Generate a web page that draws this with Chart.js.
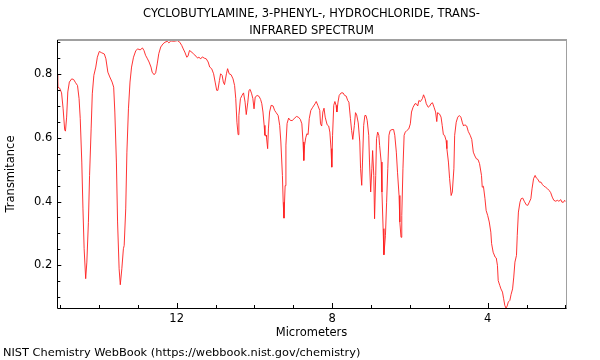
<!DOCTYPE html>
<html>
<head>
<meta charset="utf-8">
<script src="https://cdn.jsdelivr.net/npm/chart.js@4.4.1/dist/chart.umd.min.js"></script>
<style>
  html, body { margin: 0; padding: 0; background: #fff; }
  #wrap { position: relative; width: 600px; height: 360px; overflow: hidden; }
  #c { position: absolute; left: 0; top: 0; }
  .txt { position: absolute; font-family: 'DejaVu Sans', sans-serif; font-size: 11.5px; color: #000; white-space: nowrap; }
  #title { left: 0; width: 623px; top: 4.5px; line-height: 17px; text-align: center; }
  #footer { left: 3px; top: 345px; line-height: 14px; font-size: 11.35px; }
</style>
</head>
<body>
<div id="wrap">
  <canvas id="c" width="600" height="360"></canvas>
  <div id="title" class="txt"></div>
  <div id="footer" class="txt"></div>
</div>
<script>
const titleLines = ["CYCLOBUTYLAMINE, 3-PHENYL-, HYDROCHLORIDE, TRANS-", "INFRARED SPECTRUM"];
const xAxisLabel = "Micrometers";
const yAxisLabel = "Transmitance";
const footerText = "NIST Chemistry WebBook (https://webbook.nist.gov/chemistry)";

const wavelengths = [
15.07,15.06,15.01,14.96,14.92,14.88,14.86,14.83,14.80,14.76,14.70,14.65,14.60,14.55,14.51,14.48,14.44,14.41,14.38,14.34,
14.31,14.27,14.24,14.20,14.17,14.13,14.08,14.04,13.99,13.93,13.86,13.82,13.77,13.72,13.66,13.62,13.59,13.55,13.52,13.48,
13.45,13.41,13.37,13.35,13.31,13.28,13.24,13.20,13.16,13.11,13.05,13.00,12.94,12.88,12.84,12.80,12.76,12.71,12.66,12.63,
12.58,12.54,12.50,12.46,12.41,12.35,12.30,12.24,12.20,12.15,12.07,11.98,11.92,11.87,11.83,11.79,11.74,11.71,11.67,11.61,
11.55,11.50,11.46,11.43,11.38,11.34,11.29,11.24,11.19,11.15,11.10,11.05,11.01,10.97,10.94,10.90,10.87,10.83,10.80,10.77,
10.72,10.69,10.65,10.60,10.55,10.51,10.48,10.45,10.42,10.40,10.36,10.32,10.28,10.24,10.21,10.17,10.14,10.11,10.07,10.04,
10.01,9.98,9.93,9.88,9.84,9.81,9.78,9.75,9.73,9.70,9.69,9.66,9.64,9.61,9.57,9.52,9.48,9.44,9.39,9.35,
9.32,9.28,9.26,9.24,9.21,9.19,9.16,9.12,9.08,9.03,8.98,8.92,8.87,8.82,8.78,8.75,8.73,8.71,8.68,8.65,
8.62,8.59,8.55,8.50,8.44,8.41,8.37,8.32,8.30,8.27,8.24,8.21,8.18,8.13,8.09,8.06,8.03,8.01,7.99,7.96,
7.93,7.90,7.88,7.85,7.82,7.77,7.72,7.68,7.64,7.60,7.57,7.53,7.50,7.47,7.43,7.40,7.37,7.33,7.29,7.27,
7.24,7.22,7.19,7.16,7.13,7.10,7.06,7.04,7.01,6.98,6.96,6.93,6.91,6.88,6.86,6.83,6.80,6.78,6.74,6.72,
6.69,6.67,6.63,6.60,6.57,6.54,6.51,6.46,6.42,6.39,6.35,6.32,6.28,6.26,6.23,6.21,6.18,6.15,6.12,6.08,
6.03,5.99,5.96,5.92,5.87,5.84,5.80,5.77,5.73,5.68,5.65,5.61,5.58,5.53,5.49,5.46,5.42,5.38,5.34,5.31,
5.29,5.24,5.20,5.17,5.14,5.11,5.07,5.05,5.01,4.98,4.94,4.91,4.87,4.85,4.81,4.77,4.73,4.69,4.65,4.62,
4.59,4.54,4.50,4.45,4.41,4.37,4.33,4.29,4.25,4.21,4.16,4.14,4.11,4.07,4.04,4.00,3.96,3.92,3.90,3.86,
3.81,3.78,3.75,3.73,3.69,3.66,3.62,3.59,3.56,3.53,3.50,3.47,3.43,3.40,3.36,3.33,3.30,3.26,3.24,3.21,
3.17,3.14,3.10,3.06,3.01,2.97,2.93,2.89,2.86,2.82,2.78,2.75,2.71,2.67,2.63,2.59,2.55,2.51,2.46,2.42,
2.38,2.34,2.30,2.25,2.21,2.17,2.12,2.09,2.05,2.02,1.995
];

const transmittance = [
0.800,0.759,0.756,0.741,0.691,0.625,0.621,0.665,0.744,0.775,0.785,0.783,0.773,0.764,0.723,0.660,0.524,0.377,0.252,0.158,
0.210,0.335,0.482,0.628,0.738,0.796,0.822,0.853,0.871,0.867,0.863,0.848,0.806,0.791,0.775,0.759,0.681,0.524,0.336,0.189,
0.139,0.189,0.252,0.262,0.377,0.555,0.691,0.775,0.822,0.853,0.874,0.879,0.876,0.882,0.874,0.859,0.850,0.838,0.822,0.806,
0.798,0.804,0.832,0.864,0.885,0.895,0.900,0.903,0.898,0.904,0.903,0.905,0.900,0.890,0.879,0.869,0.853,0.856,0.874,0.869,
0.861,0.856,0.850,0.853,0.848,0.854,0.850,0.848,0.838,0.822,0.817,0.801,0.775,0.749,0.749,0.780,0.801,0.796,0.775,0.767,
0.801,0.817,0.801,0.798,0.785,0.764,0.723,0.649,0.610,0.670,0.723,0.733,0.741,0.712,0.673,0.712,0.749,0.752,0.738,0.723,
0.691,0.728,0.733,0.730,0.720,0.707,0.681,0.639,0.608,0.608,0.602,0.566,0.628,0.681,0.702,0.700,0.686,0.679,0.670,0.639,
0.587,0.482,0.398,0.348,0.450,0.577,0.645,0.662,0.655,0.654,0.660,0.667,0.665,0.658,0.644,0.587,0.529,0.577,0.600,0.613,
0.610,0.660,0.686,0.696,0.707,0.714,0.702,0.686,0.644,0.637,0.681,0.693,0.665,0.641,0.637,0.618,0.566,0.508,0.608,0.702,
0.714,0.702,0.681,0.712,0.733,0.741,0.741,0.733,0.731,0.717,0.712,0.660,0.623,0.595,0.639,0.679,0.672,0.647,0.587,0.503,
0.451,0.524,0.639,0.670,0.670,0.655,0.608,0.524,0.430,0.503,0.560,0.482,0.346,0.482,0.597,0.618,0.608,0.576,0.524,0.430,
0.315,0.233,0.294,0.398,0.503,0.608,0.623,0.626,0.626,0.608,0.555,0.492,0.419,0.336,0.288,0.356,0.503,0.608,0.618,0.623,
0.628,0.644,0.681,0.696,0.707,0.707,0.700,0.717,0.714,0.723,0.735,0.723,0.707,0.696,0.700,0.707,0.710,0.696,0.681,0.651,
0.679,0.675,0.665,0.639,0.610,0.608,0.592,0.566,0.524,0.472,0.419,0.430,0.503,0.608,0.649,0.665,0.670,0.665,0.647,0.637,
0.641,0.637,0.620,0.608,0.595,0.555,0.543,0.534,0.532,0.519,0.482,0.445,0.448,0.409,0.372,0.356,0.336,0.304,0.268,0.241,
0.226,0.223,0.200,0.152,0.137,0.126,0.116,0.095,0.074,0.066,0.072,0.085,0.090,0.108,0.126,0.163,0.210,0.231,0.294,0.367,
0.398,0.409,0.411,0.401,0.390,0.388,0.398,0.409,0.440,0.472,0.482,0.474,0.470,0.461,0.461,0.453,0.448,0.445,0.440,0.435,
0.428,0.414,0.404,0.401,0.404,0.401,0.406,0.398,0.398,0.404,0.400
];

const xTickValues = [2,3,4,5,6,7,8,9,10,11,12,13,14,15];
const xTickLabels = [4, 8, 12];
const yTickValues = [0.1,0.15,0.2,0.25,0.3,0.35,0.4,0.45,0.5,0.55,0.6,0.65,0.7,0.75,0.8,0.85,0.9];
const yTickLabels = [0.2, 0.4, 0.6, 0.8];

const FONT = "'DejaVu Sans', sans-serif";
const FSIZE = 11.5;

document.getElementById('title').innerHTML = titleLines.map(s => '<div>' + s + '</div>').join('');
document.getElementById('footer').textContent = footerText;

const points = wavelengths.map((w, i) => ({ x: w, y: transmittance[i] }));

const isIn = (arr, v) => arr.some(a => Math.abs(a - v) < 1e-9);

const framePlugin = {
  id: 'frame',
  afterDatasetsDraw(chart) {
    const { ctx, chartArea: a, scales: { x, y } } = chart;
    ctx.save();
    ctx.lineWidth = 1;
    ctx.strokeStyle = '#000';
    x.ticks.forEach(t => {
      const px = Math.round(x.getPixelForValue(t.value)) + 0.5;
      const len = isIn(xTickLabels, t.value) ? 5 : 3;
      ctx.beginPath();
      ctx.moveTo(px, a.bottom);
      ctx.lineTo(px, a.bottom - len);
      ctx.stroke();
    });
    y.ticks.forEach(t => {
      const py = Math.round(y.getPixelForValue(t.value)) + 0.5;
      const len = isIn(yTickLabels, t.value) ? 4 : 3;
      ctx.beginPath();
      ctx.moveTo(a.left, py);
      ctx.lineTo(a.left + len, py);
      ctx.stroke();
    });
    const L = Math.round(a.left) + 0.5, R = Math.round(a.right) + 0.5;
    const T = Math.round(a.top), B = Math.round(a.bottom) + 0.5;
    ctx.strokeStyle = '#a0a0a0';
    ctx.lineWidth = 2;
    ctx.beginPath(); ctx.moveTo(L, T); ctx.lineTo(R + 0.5, T); ctx.stroke();
    ctx.lineWidth = 1;
    ctx.beginPath(); ctx.moveTo(R, T); ctx.lineTo(R, B); ctx.stroke();
    ctx.strokeStyle = '#000';
    ctx.beginPath(); ctx.moveTo(L, T); ctx.lineTo(L, B); ctx.lineTo(R, B); ctx.stroke();
    ctx.restore();
  }
};

new Chart(document.getElementById('c'), {
  type: 'line',
  data: {
    datasets: [{
      data: points,
      borderColor: 'rgba(255,30,30,0.9)',
      borderWidth: 1,
      pointRadius: 0,
      tension: 0,
      fill: false
    }]
  },
  plugins: [framePlugin],
  options: {
    responsive: false,
    animation: false,
    devicePixelRatio: 1,
    layout: { padding: { left: 0, right: 34.3, top: 40, bottom: 15.4 } },
    plugins: {
      legend: { display: false },
      tooltip: { enabled: false },
      title: { display: false },
      subtitle: { display: false }
    },
    scales: {
      x: {
        type: 'linear',
        reverse: true,
        min: 1.994,
        max: 15.07,
        afterBuildTicks: s => { s.ticks = xTickValues.map(v => ({ value: v })); },
        afterFit: s => { s.height = 36.6; },
        grid: { display: false, drawTicks: false },
        border: { display: false },
        ticks: {
          autoSkip: false,
          maxRotation: 0,
          padding: 4.5,
          color: '#000',
          font: { family: FONT, size: FSIZE },
          callback: v => (isIn(xTickLabels, v) ? String(v) : '')
        },
        title: {
          display: true,
          text: xAxisLabel,
          color: '#000',
          font: { family: FONT, size: FSIZE },
          padding: { top: 0, bottom: 4.5 }
        }
      },
      y: {
        type: 'linear',
        min: 0.066,
        max: 0.907,
        afterBuildTicks: s => { s.ticks = yTickValues.map(v => ({ value: v })); },
        afterFit: s => { s.width = 57.3; },
        grid: { display: false, drawTicks: false },
        border: { display: false },
        ticks: {
          autoSkip: false,
          padding: 5,
          color: '#000',
          font: { family: FONT, size: FSIZE },
          callback: v => (isIn(yTickLabels, v) ? v.toFixed(1) : '')
        },
        title: {
          display: true,
          text: yAxisLabel,
          color: '#000',
          font: { family: FONT, size: FSIZE },
          padding: { top: 4, bottom: 0 }
        }
      }
    }
  }
});
</script>
</body>
</html>
